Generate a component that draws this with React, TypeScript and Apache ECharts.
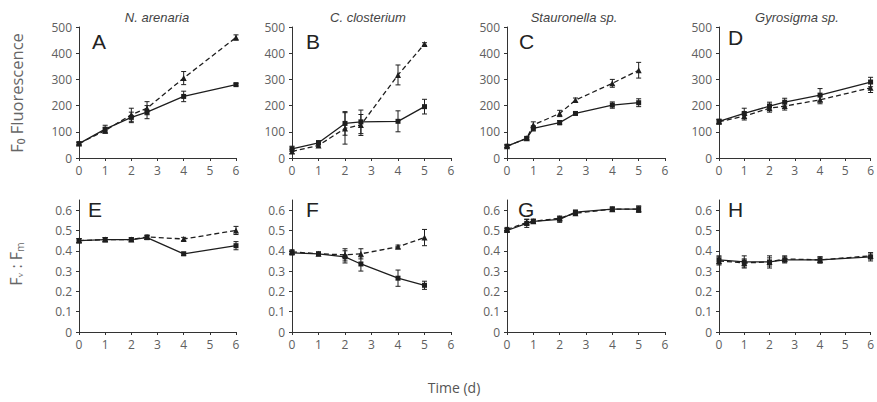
import React, { useEffect, useRef } from "react";
import * as echarts from "echarts";

// ---- Data ----
const titles = ["N. arenaria", "C. closterium", "Stauronella sp.", "Gyrosigma sp."];
const topLetters = ["A", "B", "C", "D"];
const bottomLetters = ["E", "F", "G", "H"];
const xTicks = [0, 1, 2, 3, 4, 5, 6];
const ratioTicks = [0, 0.1, 0.2, 0.3, 0.4, 0.5, 0.6];

// F0 fluorescence (top row)
const A_x = [0, 1, 2, 2.6, 4, 6];
const A_solid = [55, 110, 155, 175, 235, 280];
const A_solidErr = [5, 15, 20, 25, 20, 5];
const A_dash = [55, 105, 165, 190, 305, 460];
const A_dashErr = [5, 10, 25, 25, 25, 10];

const B_x = [0, 1, 2, 2.6, 4, 5];
const B_solid = [35, 58, 132, 138, 140, 196];
const B_solidErr = [10, 8, 45, 45, 40, 28];
const B_dash = [25, 48, 113, 126, 317, 435];
const B_dashErr = [8, 6, 60, 40, 38, 5];

const C_x = [0, 0.75, 1, 2, 2.6, 4, 5];
const C_solid = [45, 75, 113, 135, 170, 202, 211];
const C_solidErr = [5, 5, 10, 8, 5, 12, 15];
const C_dash = [45, 75, 126, 170, 221, 285, 335];
const C_dashErr = [5, 5, 12, 12, 8, 15, 30];

const D_x = [0, 1, 2, 2.6, 4, 6];
const D_solid = [140, 170, 198, 213, 240, 290];
const D_solidErr = [8, 20, 15, 15, 25, 18];
const D_dash = [138, 160, 190, 198, 222, 268];
const D_dashErr = [8, 15, 15, 15, 15, 18];

// Fv:Fm (bottom row)
const E_x = [0, 1, 2, 2.6, 4, 6];
const E_solid = [0.45, 0.455, 0.455, 0.465, 0.385, 0.425];
const E_solidErr = [0.01, 0.01, 0.008, 0.01, 0.008, 0.02];
const E_dash = [0.45, 0.455, 0.455, 0.468, 0.458, 0.5];
const E_dashErr = [0.01, 0.01, 0.008, 0.01, 0.008, 0.02];

const F_x = [0, 1, 2, 2.6, 4, 5];
const F_solid = [0.39, 0.385, 0.37, 0.335, 0.265, 0.23];
const F_solidErr = [0.01, 0.008, 0.03, 0.035, 0.04, 0.02];
const F_dash = [0.395, 0.385, 0.38, 0.385, 0.42, 0.465];
const F_dashErr = [0.01, 0.008, 0.03, 0.025, 0.008, 0.04];

const G_x = [0, 0.75, 1, 2, 2.6, 4, 5];
const G_solid = [0.5, 0.535, 0.545, 0.555, 0.59, 0.605, 0.605];
const G_solidErr = [0.01, 0.02, 0.01, 0.015, 0.01, 0.01, 0.015];
const G_dash = [0.505, 0.54, 0.545, 0.56, 0.585, 0.605, 0.605];
const G_dashErr = [0.01, 0.015, 0.01, 0.01, 0.01, 0.01, 0.015];

const H_x = [0, 1, 2, 2.6, 4, 6];
const H_solid = [0.355, 0.345, 0.345, 0.355, 0.355, 0.37];
const H_solidErr = [0.02, 0.03, 0.03, 0.015, 0.015, 0.02];
const H_dash = [0.35, 0.34, 0.345, 0.36, 0.355, 0.375];
const H_dashErr = [0.02, 0.02, 0.02, 0.015, 0.015, 0.015];

const panels = [
  { xs: A_x, s: A_solid, se: A_solidErr, d: A_dash, de: A_dashErr },
  { xs: B_x, s: B_solid, se: B_solidErr, d: B_dash, de: B_dashErr },
  { xs: C_x, s: C_solid, se: C_solidErr, d: C_dash, de: C_dashErr },
  { xs: D_x, s: D_solid, se: D_solidErr, d: D_dash, de: D_dashErr },
  { xs: E_x, s: E_solid, se: E_solidErr, d: E_dash, de: E_dashErr },
  { xs: F_x, s: F_solid, se: F_solidErr, d: F_dash, de: F_dashErr },
  { xs: G_x, s: G_solid, se: G_solidErr, d: G_dash, de: G_dashErr },
  { xs: H_x, s: H_solid, se: H_solidErr, d: H_dash, de: H_dashErr },
];

// ---- Layout ----
const colLeft = [79, 292, 507, 719];
const colWidth = [157, 159, 158, 156];
const rowTop = [27, 200];
const rowHeight = [131, 132];
const letterPos = [
  [92, 31], [306, 31], [519, 31], [728, 27],
  [88, 199], [306, 199], [518, 199], [728, 199],
];
const titleX = [157, 368, 574, 797];

const INK = "#1e1e1e";
const LABEL = "#606060";

function errRender(params: any, api: any) {
  const x = api.value(0);
  const y = api.value(1);
  const e = api.value(2);
  const lo = api.coord([x, y - e]);
  const hi = api.coord([x, y + e]);
  const w = 2.5;
  const st = { stroke: INK, lineWidth: 1 };
  return {
    type: "group",
    children: [
      { type: "line", shape: { x1: lo[0], y1: lo[1], x2: hi[0], y2: hi[1] }, style: st },
      { type: "line", shape: { x1: lo[0] - w, y1: lo[1], x2: lo[0] + w, y2: lo[1] }, style: st },
      { type: "line", shape: { x1: hi[0] - w, y1: hi[1], x2: hi[0] + w, y2: hi[1] }, style: st },
    ],
  };
}

function buildOption() {
  const grid: any[] = [];
  const xAxis: any[] = [];
  const yAxis: any[] = [];
  const series: any[] = [];
  const graphic: any[] = [];

  panels.forEach((p, i) => {
    const row = i < 4 ? 0 : 1;
    const col = i % 4;
    grid.push({
      left: colLeft[col],
      top: rowTop[row],
      width: colWidth[col],
      height: rowHeight[row],
      containLabel: false,
    });
    xAxis.push({
      type: "value",
      gridIndex: i,
      min: 0,
      max: 6,
      interval: 1,
      splitLine: { show: false },
      axisLine: { show: true, onZero: false, lineStyle: { color: "#333", width: 1 } },
      axisTick: { show: true, length: 3, lineStyle: { color: "#333" } },
      axisLabel: {
        color: LABEL,
        fontSize: 12,
        fontFamily: "Open Sans",
        margin: 6,
        formatter: (v: number) => (xTicks.indexOf(v) >= 0 ? String(v) : ""),
      },
    });
    yAxis.push(
      row === 0
        ? {
            type: "value",
            gridIndex: i,
            min: 0,
            max: 500,
            interval: 100,
            splitLine: { show: false },
            axisLine: { show: true, onZero: false, lineStyle: { color: "#333", width: 1 } },
            axisTick: { show: true, length: 3, lineStyle: { color: "#333" } },
            axisLabel: { color: LABEL, fontSize: 12, fontFamily: "Open Sans", margin: 7 },
          }
        : {
            type: "value",
            gridIndex: i,
            min: 0,
            max: 0.65,
            interval: 0.1,
            splitLine: { show: false },
            axisLine: { show: true, onZero: false, lineStyle: { color: "#333", width: 1 } },
            axisTick: { show: true, length: 3, lineStyle: { color: "#333" }, customValues: ratioTicks },
            axisLabel: {
              color: LABEL,
              fontSize: 12,
              fontFamily: "Open Sans",
              margin: 7,
              customValues: ratioTicks,
              formatter: (v: number) => {
                const r = Math.round(v * 10) / 10;
                if (Math.abs(v - r) > 1e-6) return "";
                return r === 0 ? "0" : r.toFixed(1);
              },
            },
          }
    );

    const solidData = p.xs.map((x, k) => [x, p.s[k]]);
    const dashData = p.xs.map((x, k) => [x, p.d[k]]);
    const solidErrData = p.xs.map((x, k) => [x, p.s[k], p.se[k]]);
    const dashErrData = p.xs.map((x, k) => [x, p.d[k], p.de[k]]);

    series.push({
      type: "custom",
      xAxisIndex: i,
      yAxisIndex: i,
      renderItem: errRender,
      encode: { x: 0, y: 1 },
      data: dashErrData,
      z: 3,
    });
    series.push({
      type: "custom",
      xAxisIndex: i,
      yAxisIndex: i,
      renderItem: errRender,
      encode: { x: 0, y: 1 },
      data: solidErrData,
      z: 3,
    });
    series.push({
      type: "line",
      xAxisIndex: i,
      yAxisIndex: i,
      data: dashData,
      symbol: "triangle",
      symbolSize: 6,
      itemStyle: { color: INK },
      lineStyle: { color: INK, width: 1.3, type: [5, 3] },
      z: 4,
    });
    series.push({
      type: "line",
      xAxisIndex: i,
      yAxisIndex: i,
      data: solidData,
      symbol: "rect",
      symbolSize: 5,
      itemStyle: { color: INK },
      lineStyle: { color: INK, width: 1.3 },
      z: 5,
    });

    const lp = letterPos[i];
    graphic.push({
      type: "text",
      x: lp[0],
      y: lp[1],
      style: {
        text: i < 4 ? topLetters[i] : bottomLetters[i - 4],
        fontSize: 21,
        fontFamily: "Liberation Sans",
        fill: "#222",
        textVerticalAlign: "top",
      },
    });
  });

  titles.forEach((t, c) => {
    graphic.push({
      type: "text",
      x: titleX[c],
      y: 17,
      style: {
        text: t,
        fontSize: 13,
        fontStyle: "italic",
        fontFamily: "Liberation Sans",
        fill: "#444",
        textAlign: "center",
        textVerticalAlign: "middle",
      },
    });
  });

  graphic.push({
    type: "text",
    x: 16,
    y: 93,
    rotation: Math.PI / 2,
    style: {
      text: "F\u2080 Fluorescence",
      fontSize: 16.5,
      fontFamily: "Open Sans",
      fill: "#666",
      textAlign: "center",
      textVerticalAlign: "middle",
    },
  });
  graphic.push({
    type: "text",
    x: 16,
    y: 264,
    rotation: Math.PI / 2,
    style: {
      text: "F\u1D65 : F\u2098",
      fontSize: 16,
      fontFamily: "Open Sans",
      fill: "#666",
      textAlign: "center",
      textVerticalAlign: "middle",
    },
  });
  graphic.push({
    type: "text",
    x: 454,
    y: 387,
    style: {
      text: "Time (d)",
      fontSize: 14,
      fontFamily: "Open Sans",
      fill: "#555",
      textAlign: "center",
      textVerticalAlign: "middle",
    },
  });

  return {
    animation: false,
    backgroundColor: "#ffffff",
    grid,
    xAxis,
    yAxis,
    series,
    graphic,
  };
}

export default function App() {
  const ref = useRef<HTMLDivElement>(null);
  useEffect(() => {
    if (!ref.current) return;
    const chart = echarts.init(ref.current, null, { renderer: "svg" });
    chart.setOption(buildOption() as any);
    return () => chart.dispose();
  }, []);
  return (
    <div
      ref={ref}
      style={{ position: "fixed", left: 0, top: 0, width: 877, height: 402, background: "#fff" }}
    />
  );
}
